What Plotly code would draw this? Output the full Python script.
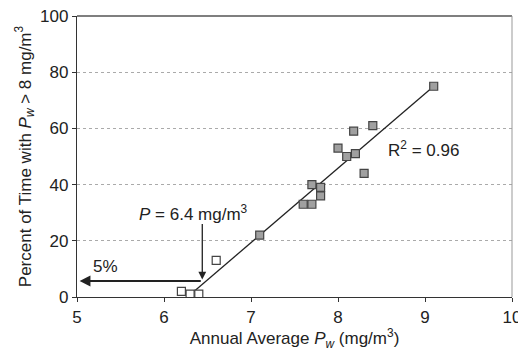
import plotly.graph_objects as go

# measured points (annual average Pw, percent of time > 8 mg/m3)
x_open = [6.2, 6.3, 6.4, 6.6]
y_open = [2, 1, 1, 13]
x_fill = [7.1, 7.6, 7.7, 7.7, 7.8, 7.8, 8.0, 8.1, 8.2, 8.18, 8.4, 8.3, 9.1]
y_fill = [22, 33, 33, 40, 39, 36, 53, 50, 51, 59, 61, 44, 75]

# fitted line end points
fit_x = [6.27, 9.1]
fit_y = [0, 75]

p_limit = 6.44
pct_at_limit = 5.7

font = dict(family="Liberation Sans, Arial, sans-serif", size=17, color="#222")

fig = go.Figure()
fig.add_trace(go.Scatter(x=fit_x, y=fit_y, mode="lines",
                         line=dict(color="#222", width=1.3), hoverinfo="skip"))
fig.add_trace(go.Scatter(x=x_fill, y=y_fill, mode="markers",
                         marker=dict(symbol="square", size=8, color="#a0a0a0",
                                     line=dict(color="#444", width=1.2))))
fig.add_trace(go.Scatter(x=x_open, y=y_open, mode="markers",
                         marker=dict(symbol="square", size=8, color="white",
                                     line=dict(color="#444", width=1.2))))

# arrows
fig.add_annotation(x=p_limit, y=pct_at_limit + 0.5, ax=p_limit, ay=26.5,
                   xref="x", yref="y", axref="x", ayref="y", text="",
                   showarrow=True, arrowhead=2, arrowsize=1.2, arrowwidth=1.3,
                   arrowcolor="#222")
fig.add_annotation(x=5.03, y=pct_at_limit, ax=p_limit, ay=pct_at_limit,
                   xref="x", yref="y", axref="x", ayref="y", text="",
                   showarrow=True, arrowhead=2, arrowsize=1.2, arrowwidth=1.8,
                   arrowcolor="#222")

fig.add_annotation(x=6.34, y=30, text="<i>P</i> = 6.4 mg/m<sup>3</sup>",
                   showarrow=False, font=font)
fig.add_annotation(x=5.33, y=11, text="5%", showarrow=False, font=font)
fig.add_annotation(x=8.98, y=52.5, text="R<sup>2</sup> = 0.96",
                   showarrow=False, font=font)

# frame on top and right
fig.add_shape(type="line", xref="paper", yref="paper", x0=0, x1=1, y0=1, y1=1,
              line=dict(color="#555", width=1.5))
fig.add_shape(type="line", xref="paper", yref="paper", x0=1, x1=1, y0=0, y1=1,
              line=dict(color="#999", width=1))

# page body adds an 8px offset, so the figure is 8px smaller
fig.update_layout(
    width=518, height=343,
    margin=dict(l=69, r=14, t=8, b=54),
    paper_bgcolor="white", plot_bgcolor="white",
    showlegend=False,
    font=font,
    xaxis=dict(range=[5, 10], dtick=1, showgrid=False, zeroline=False,
               showline=True, linecolor="#333", linewidth=1.3,
               ticks="outside", ticklen=4, tickcolor="#333", automargin=False,
               ticklabeloverflow="allow",
               title=dict(text="Annual Average <i>P<sub>w</sub></i> (mg/m<sup>3</sup>)",
                          standoff=0, font=font)),
    yaxis=dict(range=[0, 100], dtick=20, showgrid=True, gridcolor="#aaa",
               griddash="dot", gridwidth=1.2, zeroline=False,
               showline=True, linecolor="#333", linewidth=1.3,
               ticks="outside", ticklen=4, tickcolor="#333", automargin=False,
               ticklabeloverflow="allow",
               title=dict(text="Percent of Time with <i>P<sub>w</sub></i> > 8 mg/m<sup>3</sup>",
                          standoff=4, font=font)),
)

fig.write_html("out.html")
